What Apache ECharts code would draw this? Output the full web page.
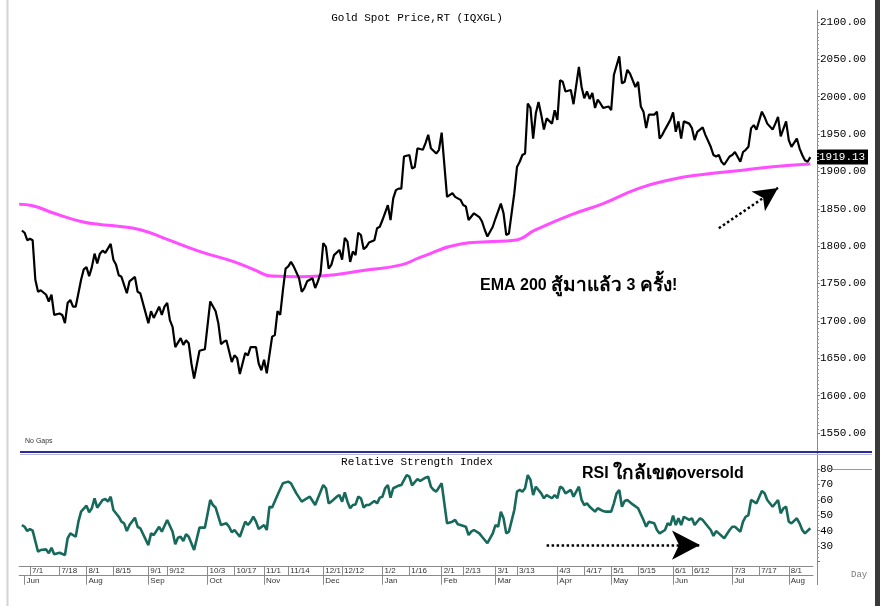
<!doctype html>
<html lang="th">
<head>
<meta charset="UTF-8" />
<title>Gold Spot Price</title>
<script src="https://cdn.jsdelivr.net/npm/echarts@6/dist/echarts.min.js"></script>
<style>
  html, body { margin: 0; padding: 0; background: #fff; }
  #chart { width: 880px; height: 606px; }
</style>
</head>
<body>
<div id="chart"></div>
<script>
// trading days (weekdays) shown on the axis
const START_DAY = '2022-06-27';
const END_DAY = '2023-08-14';

// day labels on the upper row, month labels on the lower row
const dayLabels = ['2022-07-01', '2022-07-18', '2022-08-01', '2022-08-15', '2022-09-01', '2022-09-12',
  '2022-10-03', '2022-10-17', '2022-11-01', '2022-11-14', '2022-12-01', '2022-12-12', '2023-01-02',
  '2023-01-16', '2023-02-01', '2023-02-13', '2023-03-01', '2023-03-13', '2023-04-03', '2023-04-17',
  '2023-05-01', '2023-05-15', '2023-06-01', '2023-06-12', '2023-07-03', '2023-07-17', '2023-08-01'];
const monthDays = ['2022-06-29', '2022-08-01', '2022-09-01', '2022-10-03', '2022-11-01', '2022-12-01',
  '2023-01-02', '2023-02-01', '2023-03-01', '2023-04-03', '2023-05-01', '2023-06-01', '2023-07-03', '2023-08-01'];
const monthNames = ['Jun', 'Aug', 'Sep', 'Oct', 'Nov', 'Dec', 'Jan', 'Feb', 'Mar', 'Apr', 'May', 'Jun', 'Jul', 'Aug'];

// gold price (trading-day offset from START_DAY, price)
const priceDay = [1, 2, 3, 4, 5, 6, 7, 8, 10, 11, 12, 13, 15, 16, 17, 18, 19, 20, 21, 23, 24, 25, 26, 27, 28, 29, 30,
  31, 32, 34, 35, 36, 37, 38, 40, 41, 43, 44, 45, 48, 49, 50, 52, 53, 54, 55, 56, 57, 58, 60, 61, 62, 63, 64, 65,
  67, 69, 71, 73, 74, 75, 76, 77, 79, 80, 81, 82, 84, 85, 86, 88, 89, 90, 91, 92, 94, 95, 96, 97, 98, 99, 100,
  101, 102, 104, 105, 106, 107, 109, 110, 111, 112, 113, 114, 115, 116, 117, 119, 120, 121, 122, 123, 124, 125,
  126, 127, 128, 129, 130, 132, 133, 134, 135, 137, 138, 139, 140, 141, 142, 143, 145, 146, 147, 148, 150, 151,
  152, 153, 155, 156, 157, 159, 161, 162, 164, 165, 166, 167, 169, 171, 172, 173, 174, 176, 177, 179, 180, 181,
  182, 184, 185, 186, 187, 188, 189, 190, 191, 192, 193, 194, 195, 196, 198, 199, 200, 201, 202, 203, 205, 206,
  208, 209, 210, 211, 212, 213, 214, 215, 216, 217, 219, 220, 221, 223, 224, 225, 226, 227, 229, 230, 231, 232,
  233, 234, 236, 237, 238, 239, 240, 242, 243, 244, 245, 246, 247, 249, 250, 251, 252, 254, 255, 257, 258, 259,
  260, 261, 262, 264, 265, 266, 268, 269, 270, 271, 272, 273, 274, 276, 277, 278, 280, 281, 282, 283, 285, 286,
  287, 289, 290, 291, 292, 293, 294];
const priceVal = [1821, 1818, 1808, 1810, 1808, 1755, 1739, 1741, 1735, 1726, 1735, 1708, 1710, 1708, 1697, 1724,
  1728, 1719, 1719, 1755, 1769, 1772, 1760, 1772, 1790, 1777, 1790, 1794, 1791, 1803, 1782, 1775, 1761, 1759, 1737,
  1753, 1759, 1739, 1737, 1697, 1713, 1704, 1719, 1708, 1719, 1724, 1701, 1692, 1665, 1677, 1668, 1674, 1670, 1643,
  1623, 1660, 1662, 1726, 1713, 1697, 1669, 1672, 1674, 1645, 1654, 1650, 1629, 1657, 1654, 1665, 1665, 1643, 1634,
  1648, 1630, 1679, 1681, 1713, 1708, 1741, 1770, 1773, 1779, 1773, 1757, 1739, 1744, 1753, 1757, 1744, 1753, 1764,
  1804, 1799, 1770, 1775, 1788, 1795, 1782, 1811, 1806, 1779, 1793, 1788, 1818, 1815, 1796, 1799, 1805, 1808, 1824,
  1826, 1835, 1855, 1835, 1864, 1875, 1877, 1877, 1920, 1922, 1904, 1906, 1931, 1929, 1938, 1949, 1931, 1924, 1929,
  1952, 1866, 1871, 1866, 1862, 1855, 1853, 1835, 1844, 1839, 1833, 1822, 1813, 1826, 1837, 1857, 1844, 1815, 1817,
  1871, 1906, 1913, 1922, 1924, 1991, 1985, 1944, 1978, 1993, 1976, 1956, 1971, 1964, 1982, 1969, 2022, 2020, 2007,
  2009, 1990, 2040, 2013, 1998, 2007, 1997, 2005, 1985, 1996, 1991, 1985, 1987, 1982, 2029, 2054, 2018, 2020, 2036,
  2031, 2013, 2020, 1987, 1980, 1958, 1976, 1976, 1980, 1944, 1949, 1956, 1969, 1979, 1953, 1967, 1944, 1967, 1964,
  1958, 1942, 1953, 1959, 1949, 1933, 1922, 1920, 1922, 1913, 1909, 1920, 1922, 1926, 1913, 1926, 1929, 1933, 1958,
  1962, 1956, 1980, 1973, 1964, 1956, 1964, 1973, 1947, 1967, 1942, 1933, 1944, 1931, 1922, 1915, 1913, 1919.13];

// 200-day EMA (magenta)
const emaDay = [0, 5, 13, 23, 30, 36, 45, 55, 67, 80, 87, 94, 104, 112, 129, 142, 149, 164, 174, 184, 192, 205, 217,
  230, 242, 254, 267, 279, 294];
const emaVal = [1856, 1854, 1844, 1833, 1829, 1827, 1822, 1809, 1793, 1779, 1769, 1760, 1759, 1760, 1768, 1775,
  1785, 1803, 1806, 1808, 1822, 1842, 1857, 1877, 1889, 1896, 1901, 1906, 1910];

// RSI
const rsiDay = [1, 2, 3, 4, 5, 7, 8, 10, 11, 12, 13, 15, 17, 18, 19, 21, 22, 23, 25, 26, 27, 28, 29, 31, 32, 33, 34,
  35, 37, 38, 39, 40, 41, 43, 44, 45, 48, 49, 50, 52, 53, 55, 57, 58, 59, 60, 61, 62, 63, 65, 67, 69, 71, 72, 73,
  75, 77, 78, 79, 80, 82, 84, 85, 86, 87, 88, 89, 91, 92, 93, 94, 96, 98, 100, 101, 103, 105, 106, 108, 110, 111,
  113, 114, 115, 116, 118, 119, 120, 121, 122, 123, 124, 125, 126, 127, 128, 129, 130, 132, 133, 134, 135, 136, 137,
  138, 139, 141, 142, 144, 145, 146, 148, 149, 151, 152, 153, 154, 155, 157, 159, 161, 162, 163, 164, 166, 167, 168,
  169, 171, 172, 174, 176, 177, 178, 179, 180, 181, 182, 184, 185, 186, 187, 188, 189, 190, 191, 192, 194, 195, 196,
  198, 199, 200, 201, 202, 203, 205, 206, 208, 209, 210, 211, 212, 214, 215, 217, 218, 220, 221, 222, 223, 224, 225,
  226, 228, 230, 232, 233, 234, 236, 237, 238, 240, 241, 242, 243, 244, 245, 246, 247, 249, 250, 251, 253, 254, 256,
  257, 258, 259, 260, 262, 264, 265, 266, 268, 269, 270, 271, 272, 273, 274, 276, 277, 278, 280, 282, 283, 284, 285,
  286, 287, 289, 290, 291, 292, 294];
const rsiVal = [43.6, 42.5, 39.7, 41, 40, 26.3, 27.4, 27.8, 25.3, 28.9, 24.6, 25.6, 24.2, 35, 38.2, 36, 45.8, 52.3,
  56.2, 51.9, 54.5, 61, 54.9, 59.9, 60.5, 58.8, 62, 53.4, 49, 45.8, 44.7, 39.7, 43.6, 48.4, 42.5, 41.5, 30.6, 38.2,
  37.1, 42.5, 39.3, 46.9, 39.3, 31.1, 35.4, 36, 33.2, 37.6, 36, 27.4, 41.9, 41.9, 59.9, 56.6, 54.9, 43.6, 44.7, 42.5,
  38.9, 40.4, 36, 45.8, 43.6, 45.8, 49, 45.8, 41, 43.6, 40.4, 55.5, 55, 63.1, 70.7, 71.8, 70.7, 64.2, 58.8, 59.9, 62,
  56.6, 61, 69.6, 67.5, 57.7, 58.8, 62, 63.1, 58.8, 64.9, 58.8, 54.5, 56.6, 57, 62, 61, 54.9, 56.6, 56.6, 59.2, 57.7,
  61.4, 62, 67.5, 69.6, 61.4, 67.5, 69.2, 69.6, 76.1, 75, 69.4, 73.5, 72.2, 74.4, 75, 68.5, 66.4, 65.3, 70.7, 44.7,
  45.8, 46.9, 44.1, 43.6, 42.5, 37.1, 39.3, 40.4, 38.2, 36, 31.8, 38.2, 43.6, 42.5, 52.3, 48, 38.2, 39.3, 53.4, 65.3,
  66.4, 65.3, 67.5, 76.1, 72.9, 63.1, 68.5, 64.2, 61, 63.1, 61, 63.1, 61, 68.5, 67.5, 64.2, 66.4, 62, 68.5, 59.9,
  56.6, 57.7, 55.5, 52.3, 54.5, 52.7, 52.3, 52.3, 57.7, 64.2, 66.4, 55.5, 59.2, 59.9, 57, 54.5, 46.9, 42.5, 45.8,
  44.7, 40.4, 38.2, 40.4, 44.7, 43.6, 49.7, 43.6, 48, 43.6, 49, 46.9, 48, 43.6, 48, 46.9, 42.5, 40.4, 36.5, 39.7,
  38.2, 35, 40.4, 42.5, 42.5, 39.3, 45.8, 49, 50.1, 59.9, 58.8, 57.7, 65.7, 64.2, 59.9, 55.5, 59.9, 51.2, 54.5,
  55.5, 45.8, 44.7, 48, 44.7, 40.4, 38.2, 41.5];

const LAST_PRICE = 1919.13;

function tradingDays(start, end) {
  const out = [];
  let d = new Date(start + 'T00:00:00Z');
  const e = new Date(end + 'T00:00:00Z');
  while (d <= e) {
    const w = d.getUTCDay();
    if (w !== 0 && w !== 6) out.push(d.toISOString().slice(0, 10));
    d = new Date(d.getTime() + 86400000);
  }
  return out;
}
const days = tradingDays(START_DAY, END_DAY);
const daySet = new Set(dayLabels);
const monthMap = {};
monthDays.forEach((d, i) => (monthMap[d] = monthNames[i]));

const pairs = (xs, ys) => xs.map((x, i) => [x, ys[i]]);
const mono = "'Liberation Mono', 'DejaVu Sans Mono', monospace";
const sans = "'Liberation Sans', Arial, 'DejaVu Sans', sans-serif";

// bold annotation text, Thai runs set a bit larger like the original's wider Thai face
const noteRich = {
  a: { fontFamily: sans, fontWeight: 'bold', fontSize: 16, color: '#000' },
  t: { fontFamily: sans, fontWeight: 'bold', fontSize: 19, color: '#000' }
};

const chart = echarts.init(document.getElementById('chart'), null, { renderer: 'canvas' });
chart.setOption({
  animation: false,
  backgroundColor: '#fff',
  grid: [
    { left: 19.2, right: 67, top: 22, height: 411 },
    { left: 19.2, right: 67, top: 469, height: 92.4 }
  ],
  xAxis: [
    { type: 'category', gridIndex: 0, data: days, boundaryGap: false, show: false },
    {
      type: 'category', gridIndex: 1, data: days, boundaryGap: false, position: 'bottom', offset: 4.6,
      axisLine: { lineStyle: { color: '#8a8a8a', width: 1 } },
      axisTick: { length: 9.5, interval: (i, v) => daySet.has(v), lineStyle: { color: '#8a8a8a' } },
      axisLabel: {
        interval: (i, v) => daySet.has(v), align: 'left', margin: 1, padding: [0, 0, 0, 2],
        fontFamily: sans, fontSize: 8, color: '#333',
        formatter: v => { const p = v.split('-'); return (+p[1]) + '/' + (+p[2]); }
      },
      splitLine: { show: false }
    },
    {
      type: 'category', gridIndex: 1, data: days, boundaryGap: false, position: 'bottom', offset: 14.3,
      axisLine: { lineStyle: { color: '#8a8a8a', width: 1 } },
      axisTick: { length: 9, interval: (i, v) => v in monthMap, lineStyle: { color: '#8a8a8a' } },
      axisLabel: {
        interval: (i, v) => v in monthMap, align: 'left', margin: 1, padding: [0, 0, 0, 2],
        fontFamily: sans, fontSize: 8, color: '#333',
        formatter: v => monthMap[v] || ''
      },
      splitLine: { show: false }
    }
  ],
  yAxis: [
    {
      type: 'value', gridIndex: 0, position: 'right', offset: 4, min: 1550, max: 2100, interval: 50,
      axisLine: { show: false },
      axisTick: { show: true, length: 3, lineStyle: { color: '#777' } },
      minorTick: { show: true, splitNumber: 10, length: 2, lineStyle: { color: '#999' } },
      axisLabel: { margin: 3, fontFamily: mono, fontSize: 11, color: '#000', formatter: v => v.toFixed(2) },
      splitLine: { show: false }
    },
    {
      type: 'value', gridIndex: 1, position: 'right', offset: 4, min: 20, max: 80, interval: 10,
      axisLine: { show: false },
      axisTick: { show: true, length: 3, lineStyle: { color: '#777' } },
      minorTick: { show: true, splitNumber: 4, length: 2, lineStyle: { color: '#999' } },
      axisLabel: {
        margin: 3, fontFamily: mono, fontSize: 11, color: '#000',
        formatter: v => (v === 20 ? '' : String(v))
      },
      splitLine: { show: false }
    }
  ],
  series: [
    {
      name: 'EMA 200', type: 'line', xAxisIndex: 0, yAxisIndex: 0, smooth: true, symbol: 'none',
      data: pairs(emaDay, emaVal), lineStyle: { color: '#ff4dff', width: 3 }, z: 2
    },
    {
      name: 'Gold', type: 'line', xAxisIndex: 0, yAxisIndex: 0, symbol: 'none',
      data: pairs(priceDay, priceVal), lineStyle: { color: '#000', width: 2.2 }, z: 3,
      markLine: {
        silent: true, symbol: ['none', 'arrow'], symbolSize: [18, 24],
        label: { show: false },
        lineStyle: { color: '#000', width: 2.5, type: [2.5, 2.5] },
        itemStyle: { color: '#000' },
        data: [[{ coord: [260, 1824] }, { coord: [281.5, 1878] }]]
      }
    },
    {
      name: 'RSI', type: 'line', xAxisIndex: 1, yAxisIndex: 1, symbol: 'none',
      data: pairs(rsiDay, rsiVal), lineStyle: { color: '#17695c', width: 2.6 },
      markLine: {
        silent: true, symbol: ['none', 'arrow'], symbolSize: [22, 28],
        label: { show: false },
        lineStyle: { color: '#000', width: 2.5, type: [2.5, 2.5] },
        itemStyle: { color: '#000' },
        data: [[{ coord: [196, 30.6] }, { coord: [253, 30.6] }]]
      }
    }
  ],
  graphic: [
    // frame
    { type: 'line', shape: { x1: 7.5, y1: 0, x2: 7.5, y2: 606 }, style: { stroke: '#d4d4d4', lineWidth: 2 } },
    { type: 'rect', shape: { x: 875, y: 0, width: 5, height: 606 }, style: { fill: '#3a3a3a' } },
    // right axis line through both panels
    { type: 'line', shape: { x1: 817.5, y1: 10, x2: 817.5, y2: 585 }, style: { stroke: '#8a8a8a', lineWidth: 1 } },
    // panel separator
    { type: 'line', shape: { x1: 20, y1: 452, x2: 872, y2: 452 }, style: { stroke: '#2a2aa8', lineWidth: 2 } },
    { type: 'line', shape: { x1: 20, y1: 454.5, x2: 872, y2: 454.5 }, style: { stroke: '#b8b8c8', lineWidth: 1 } },
    // RSI 80 reference at the axis
    { type: 'line', shape: { x1: 832, y1: 469.5, x2: 872, y2: 469.5 }, style: { stroke: '#999', lineWidth: 1 } },
    // titles
    { type: 'text', x: 417, y: 18, style: { text: 'Gold Spot Price,RT (IQXGL)', font: '11px ' + mono, fill: '#000', textAlign: 'center', textVerticalAlign: 'middle' } },
    { type: 'text', x: 417, y: 462, style: { text: 'Relative Strength Index', font: '11px ' + mono, fill: '#000', textAlign: 'center', textVerticalAlign: 'middle' } },
    { type: 'text', x: 25, y: 441, style: { text: 'No Gaps', font: '7px ' + sans, fill: '#333', textVerticalAlign: 'middle' } },
    { type: 'text', x: 851, y: 575, style: { text: 'Day', font: '9px ' + mono, fill: '#777', textVerticalAlign: 'middle' } },
    // last price tag
    { type: 'rect', shape: { x: 817, y: 149.5, width: 51, height: 15 }, style: { fill: '#000' } },
    { type: 'text', x: 819, y: 157.5, style: { text: LAST_PRICE.toFixed(2), font: '11px ' + mono, fill: '#fff', textVerticalAlign: 'middle' } },
    // annotations
    { type: 'text', x: 480, y: 286, style: { text: '{a|EMA 200 }{t|สู้มาแล้ว}{a| 3 }{t|ครั้ง}{a|!}', rich: noteRich, textVerticalAlign: 'middle' } },
    { type: 'text', x: 582, y: 474, style: { text: '{a|RSI }{t|ใกล้เขต}{a|oversold}', rich: noteRich, textVerticalAlign: 'middle' } }
  ]
});
</script>
</body>
</html>
